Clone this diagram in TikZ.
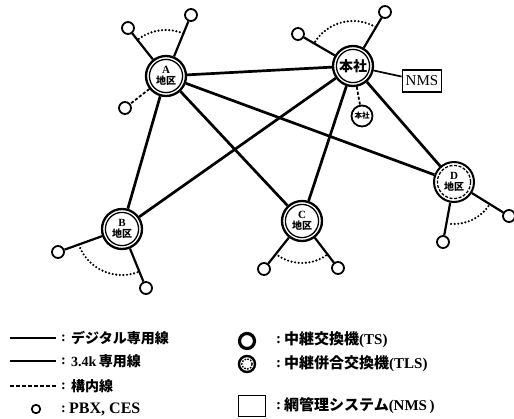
\documentclass[tikz,border=0pt]{standalone}
\usepackage{fontspec}
\setmainfont{Liberation Serif}
\newfontfamily\jp{Noto Sans CJK JP}
\newcommand\chiku[1]{{\bfseries\fontsize{11}{12}\selectfont #1}\\{\jp\bfseries\fontsize{10}{12}\selectfont 地区}}
\begin{document}
\begin{tikzpicture}[x=1pt,y=1pt,
  ts/.style={circle,draw,line width=2.3pt,minimum size=40pt,inner sep=0pt,align=center,
    font=\fontsize{10}{11.5}\selectfont,
    path picture={\draw[line width=1.3pt] (path picture bounding box.center) circle (16.6pt);}},
  tls/.style={circle,draw,line width=2pt,minimum size=40pt,inner sep=0pt,align=center,
    font=\fontsize{10}{11.5}\selectfont,
    path picture={\draw[line width=1.3pt,dash pattern=on 3pt off 1.6pt] (path picture bounding box.center) circle (16.6pt);}},
  pbx/.style={circle,draw,line width=1.8pt,minimum size=12pt,inner sep=0pt},
  trunk/.style={line width=2.7pt},
  local/.style={line width=2.2pt},
  inhouse/.style={line width=1.8pt,dash pattern=on 3pt off 2pt},
  dotarc/.style={line width=2.4pt,line cap=round,dash pattern=on 0pt off 3.6pt},
  legtxt/.style={anchor=west,inner sep=0pt},
]
\fill[white] (0,0) rectangle (514,-418);
\useasboundingbox (0,0) rectangle (514,-418);

% switching nodes
\node[ts] (A) at (166,-76) {\chiku{A}};
\node[ts] (HQ) at (353,-66) {\jp\bfseries\fontsize{14}{14}\selectfont 本社};
\node[ts] (B) at (122,-229) {\chiku{B}};
\node[ts] (C) at (302,-221) {\chiku{C}};
\node[tls] (D) at (454,-182) {\chiku{D}};
\node[draw,line width=1.8pt,minimum width=39pt,minimum height=22pt,inner sep=0pt,
  font=\fontsize{15}{15}\selectfont] (NMS) at (422,-81) {NMS};
\node[circle,draw,line width=1.8pt,minimum size=21pt,inner sep=0pt,
  font=\jp\bfseries\fontsize{7.5}{8}\selectfont] (HQs) at (362,-116) {本社};

% PBX / CES
\node[pbx] (A1) at (128,-28) {};
\node[pbx] (A2) at (191,-15) {};
\node[pbx] (A3) at (125,-108) {};
\node[pbx] (H1) at (298,-34) {};
\node[pbx] (H2) at (385,-12) {};
\node[pbx] (B1) at (58,-252) {};
\node[pbx] (B2) at (146,-288) {};
\node[pbx] (C1) at (264,-269) {};
\node[pbx] (C2) at (338,-268) {};
\node[pbx] (D1) at (443,-242) {};
\node[pbx] (D2) at (509,-216) {};

% trunk lines
\draw[trunk] (A) -- (HQ);
\draw[trunk] (A) -- (B);
\draw[trunk] (A) -- (C);
\draw[trunk] (A) -- (D);
\draw[trunk] (HQ) -- (B);
\draw[trunk] (HQ) -- (C);
\draw[trunk] (HQ) -- (D);
\draw[line width=1.7pt] (HQ) -- (NMS);

% local lines
\draw[local] (A) -- (A1);
\draw[local] (A) -- (A2);
\draw[local] (HQ) -- (H1);
\draw[local] (HQ) -- (H2);
\draw[local] (B) -- (B1);
\draw[local] (B) -- (B2);
\draw[local] (C) -- (C1);
\draw[local] (C) -- (C2);
\draw[local] (D) -- (D1);
\draw[local] (D) -- (D2);
\draw[inhouse] (A) -- (A3);
\draw[inhouse] (HQ) -- (HQs);

% dotted arcs
\draw[dotarc] ([shift={(68:46pt)}]A.center) arc[start angle=68,end angle=128,radius=46pt];
\draw[dotarc] ([shift={(60:45pt)}]HQ.center) arc[start angle=60,end angle=149,radius=45pt];
\draw[dotarc] ([shift={(200:46pt)}]B.center) arc[start angle=200,end angle=291,radius=46pt];
\draw[dotarc] ([shift={(236:42pt)}]C.center) arc[start angle=236,end angle=305,radius=42pt];
\draw[dotarc] ([shift={(266:42pt)}]D.center) arc[start angle=266,end angle=325,radius=42pt];

% legend left
\coordinate (L1a) at (10,-338); \coordinate (L1b) at (56,-338);
\coordinate (L2a) at (10,-361); \coordinate (L2b) at (56,-361);
\coordinate (L3a) at (10,-386); \coordinate (L3b) at (56,-386);
\draw[line width=2.6pt] (L1a) -- (L1b);
\draw[line width=1.8pt] (L2a) -- (L2b);
\draw[line width=2pt,dash pattern=on 4pt off 2pt] (L3a) -- (L3b);
\node[pbx,minimum size=8.5pt,line width=1.7pt] (LP) at (36,-409) {};
\begin{scope}[font=\bfseries\fontsize{14}{14}\selectfont]
\node[legtxt] (c1) at (61,-338) {:};
\node[legtxt] (t1) at (71,-338) {\jp デジタル専用線};
\node[legtxt] (c2) at (61,-361) {:};
\node[legtxt] (t2) at (71,-361) {3.4k\,{\jp 専用線}};
\node[legtxt] (c3) at (61,-386) {:};
\node[legtxt] (t3) at (71,-386) {\jp 構内線};
\node[legtxt] (c4) at (61,-409) {:};
\node[legtxt] (t4) at (69,-409) {\fontsize{16}{16}\selectfont PBX, CES};
\end{scope}

% legend right
\node[circle,draw,line width=3.2pt,minimum size=15pt,inner sep=0pt] (RT) at (247,-341) {};
\node[circle,draw,line width=2.4pt,minimum size=16pt,inner sep=0pt,
  path picture={\draw[line width=1.4pt,dash pattern=on 1.6pt off 1.4pt] (path picture bounding box.center) circle (5.2pt);}] (RL) at (247,-364) {};
\node[draw,line width=1.8pt,minimum width=27pt,minimum height=21pt,inner sep=0pt] (RN) at (252,-406) {};
\begin{scope}[font=\bfseries\fontsize{15}{15}\selectfont]
\node[legtxt] (d1) at (276,-340) {:};
\node[legtxt] (u1) at (284,-340) {{\jp 中継交換機}(TS)};
\node[legtxt] (d2) at (276,-364) {:};
\node[legtxt] (u2) at (284,-364) {{\jp 中継併合交換機}(TLS)};
\node[legtxt] (d3) at (276,-406) {:};
\node[legtxt] (u3) at (284,-406) {{\jp 網管理システム}(NMS\,)};
\end{scope}
\end{tikzpicture}
\end{document}
